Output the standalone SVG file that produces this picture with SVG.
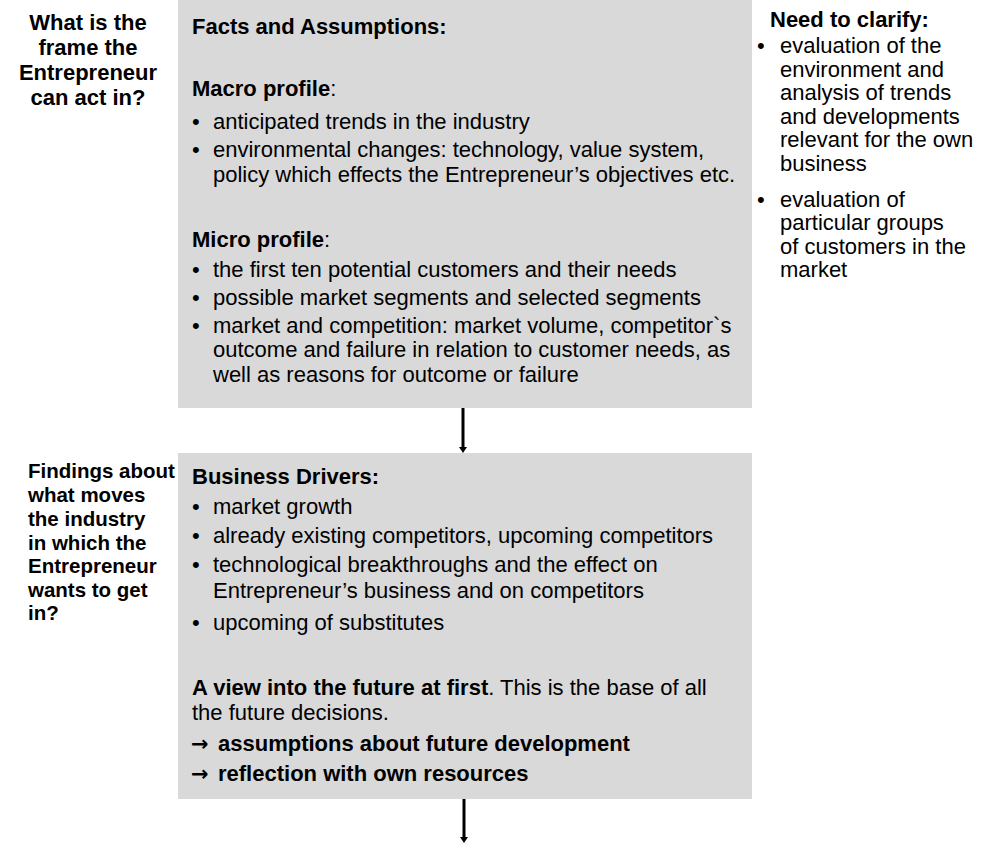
<svg xmlns="http://www.w3.org/2000/svg" width="982" height="844" viewBox="0 0 982 844">
<defs>
<style>
text{font-family:"Liberation Sans",Arial,sans-serif;fill:#000;}
.b{font-weight:bold;}
.t{font-size:22px;}
.l2{font-size:20.5px;font-weight:bold;}
.arr{font-family:"DejaVu Sans",sans-serif;font-size:21px;font-weight:bold;}
.box{fill:#d9d9d9;}
.conn{stroke:#000;stroke-width:3;fill:none;}
</style>
</defs>
<rect width="982" height="844" fill="#fff"/>

<g id="label1">
<text class="t b" text-anchor="middle" x="88" y="30">What is the</text>
<text class="t b" text-anchor="middle" x="88" y="55">frame the</text>
<text class="t b" text-anchor="middle" x="88" y="80">Entrepreneur</text>
<text class="t b" text-anchor="middle" x="88" y="105">can act in?</text>
</g>

<g id="facts">
<rect class="box" x="178" y="0" width="574" height="408"/>
<text class="t b" x="192" y="34">Facts and Assumptions:</text>
<text class="t" x="192" y="96"><tspan class="b">Macro profile</tspan>:</text>
<text class="t" x="192" y="129">•</text><text class="t" x="213" y="129">anticipated trends in the industry</text>
<text class="t" x="192" y="157">•</text><text class="t" x="213" y="157">environmental changes: technology, value system,</text>
<text class="t" x="213" y="182">policy which effects the Entrepreneur’s objectives etc.</text>
<text class="t" x="192" y="247"><tspan class="b">Micro profile</tspan>:</text>
<text class="t" x="192" y="277">•</text><text class="t" x="213" y="277">the first ten potential customers and their needs</text>
<text class="t" x="192" y="305">•</text><text class="t" x="213" y="305">possible market segments and selected segments</text>
<text class="t" x="192" y="333">•</text><text class="t" x="213" y="333">market and competition: market volume, competitor`s</text>
<text class="t" x="213" y="357">outcome and failure in relation to customer needs, as</text>
<text class="t" x="213" y="382">well as reasons for outcome or failure</text>
</g>

<g id="clarify1">
<text class="t b" x="770" y="27">Need to clarify:</text>
<text class="t" x="757" y="53">•</text><text class="t" x="780" y="53">evaluation of the</text>
<text class="t" x="780" y="77">environment and</text>
<text class="t" x="780" y="100">analysis of trends</text>
<text class="t" x="780" y="124">and developments</text>
<text class="t" x="780" y="147">relevant for the own</text>
<text class="t" x="780" y="171">business</text>
<text class="t" x="757" y="207">•</text><text class="t" x="780" y="207">evaluation of</text>
<text class="t" x="780" y="230">particular groups</text>
<text class="t" x="780" y="254">of customers in the</text>
<text class="t" x="780" y="277">market</text>
</g>

<g id="label2">
<text class="l2" x="28" y="478">Findings about</text>
<text class="l2" x="28" y="502">what moves</text>
<text class="l2" x="28" y="526">the industry</text>
<text class="l2" x="28" y="550">in which the</text>
<text class="l2" x="28" y="573">Entrepreneur</text>
<text class="l2" x="28" y="597">wants to get</text>
<text class="l2" x="28" y="620">in?</text>
</g>

<g id="drivers">
<rect class="box" x="178" y="453" width="574" height="346"/>
<text class="t b" x="192" y="484">Business Drivers:</text>
<text class="t" x="192" y="514">•</text><text class="t" x="213" y="514">market growth</text>
<text class="t" x="192" y="543">•</text><text class="t" x="213" y="543">already existing competitors, upcoming competitors</text>
<text class="t" x="192" y="572">•</text><text class="t" x="213" y="572">technological breakthroughs and the effect on</text>
<text class="t" x="213" y="598">Entrepreneur’s business and on competitors</text>
<text class="t" x="192" y="630">•</text><text class="t" x="213" y="630">upcoming of substitutes</text>
<text class="t" x="192" y="695"><tspan class="b">A view into the future at first</tspan>. This is the base of all</text>
<text class="t" x="192" y="720">the future decisions.</text>
<text class="arr" x="191" y="751">→</text><text class="t b" x="218" y="751">assumptions about future development</text>
<text class="arr" x="191" y="781">→</text><text class="t b" x="218" y="781">reflection with own resources</text>
</g>

<g id="connectors">
<line class="conn" x1="463" y1="408" x2="463" y2="448"/>
<path d="M459,447 L467,447 L463,453 z" fill="#000"/>
<line class="conn" x1="464" y1="799" x2="464" y2="838"/>
<path d="M460,837 L468,837 L464,843 z" fill="#000"/>
</g>
</svg>
